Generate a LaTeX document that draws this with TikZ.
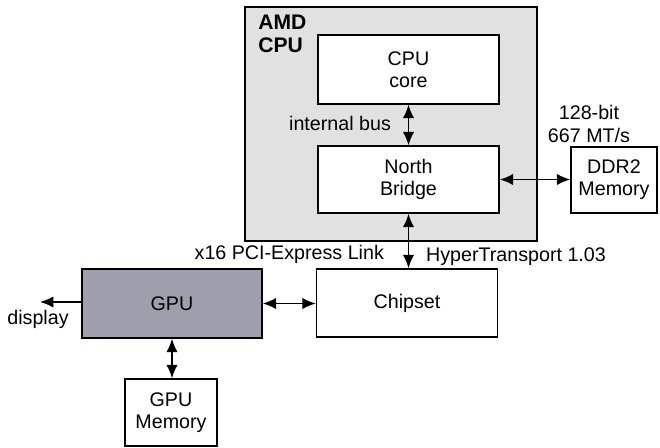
\documentclass[tikz,border=0pt]{standalone}
\usepackage{fontspec}
\setmainfont{Liberation Sans}
\usepackage{tikz}
\usepackage{xcolor}
\usetikzlibrary{arrows.meta, positioning, calc}
\definecolor{cChip}{RGB}{225,225,225}
\definecolor{cGpu}{RGB}{158,158,172}
\tikzset{
	blockbox/.style={rectangle, minimum width=3.62cm, minimum height=1.36cm, text centered, align=center, draw=black, line width=0.8pt, fill=white},
	membox/.style  ={rectangle, minimum width=1.78cm, minimum height=1.34cm, text centered, align=center, draw=black, line width=0.8pt, fill=white},
	busarrow/.style={{Latex[length=2.7mm,width=2.3mm]}-{Latex[length=2.7mm,width=2.3mm]}, line width=1pt},
	outarrow/.style={-{Latex[length=2.7mm,width=2.3mm]}, line width=1pt},
	buslabel/.style={inner sep=1pt, align=center},
}

\begin{document}
\begin{tikzpicture}[x=0.02cm, y=-0.02cm, font=\fontsize{11.2}{12.6}\selectfont]
	\useasboundingbox (0,0) rectangle (660,447);
	% processor package
	\node[draw=black, line width=1pt, fill=cChip, minimum width=5.84cm, minimum height=4.68cm] (amd) at (391,124) {};
	\node[anchor=north west, align=left, inner sep=0pt, font=\fontsize{12}{12.8}\selectfont\bfseries] (amdlabel) at (258,15) {AMD\\CPU};
	\node[blockbox, minimum height=1.38cm] (core) at (408.5,69.5) {CPU\\core};
	\node[blockbox, minimum height=1.34cm] (nb) at (408.5,179.5) {North\\Bridge};
	% outside blocks
	\node[membox, minimum width=1.72cm, minimum height=1.32cm] (ddr) at (614,180) {DDR2\\Memory};
	\node[blockbox] (chip) at (407,303) {Chipset};
	\node[blockbox, minimum width=3.6cm, minimum height=1.38cm, fill=cGpu] (gpu) at (172,303.5) {GPU};
	\node[membox, minimum width=1.84cm] (gmem) at (171,412.5) {GPU\\Memory};
	\coordinate (disp) at (40,302);
	\node[buslabel] (displabel) at (38,319) {display};
	% links
	\draw[busarrow] (core.south) -- (nb.north);
	\draw[busarrow] (nb.east) -- (nb.east -| ddr.west);
	\draw[busarrow] (nb.south) -- (nb.south |- chip.north);
	\draw[busarrow] (gpu.east) -- (gpu.east -| chip.west);
	\draw[busarrow] (gpu.south) -- (gpu.south |- gmem.north);
	\draw[outarrow] (gpu.west |- disp) -- (disp);
	% link labels
	\node[buslabel, anchor=east] (ibus) at (393,123) {internal bus};
	\node[buslabel] (ddrbus) at (589,124) {128-bit\\667 MT/s};
	\node[buslabel, anchor=west] (ht) at (424,257) {HyperTransport 1.03};
	\node[buslabel, anchor=east] (pcie) at (386,254) {x16 PCI-Express Link};
\end{tikzpicture}
\end{document}
